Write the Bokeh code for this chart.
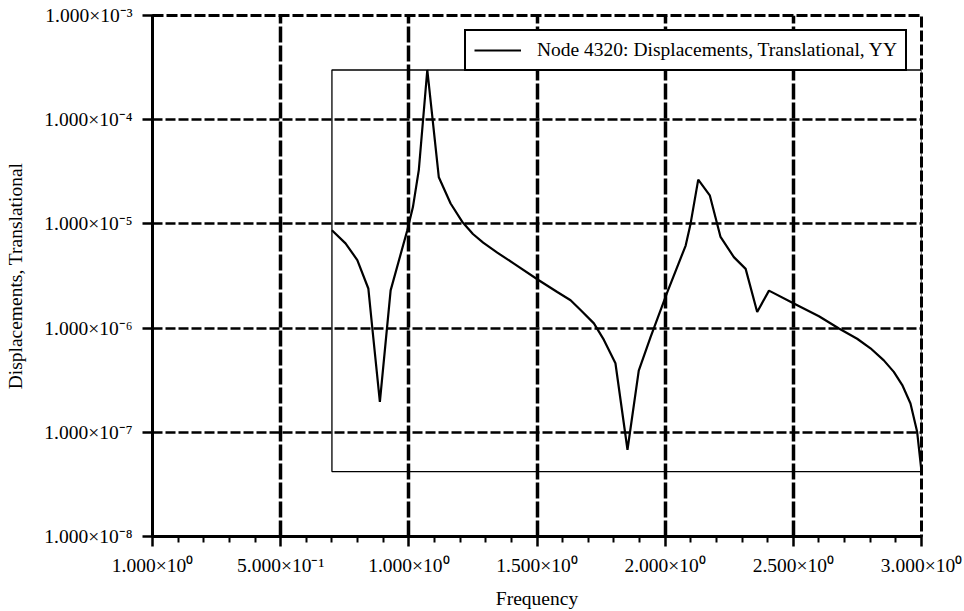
from bokeh.plotting import figure
from bokeh.models import FixedTicker, Legend, LegendItem, Range1d
from bokeh.embed import file_html
from bokeh.resources import INLINE

# ---- data ----
freq = [0.700, 0.753, 0.799, 0.842, 0.857, 0.887, 0.929, 0.994, 1.016, 1.039,
        1.072, 1.117, 1.163, 1.208, 1.250, 1.290, 1.345, 1.410, 1.507, 1.579,
        1.631, 1.670, 1.722, 1.761, 1.806, 1.853, 1.897, 1.943, 2.008, 2.080,
        2.099, 2.129, 2.174, 2.216, 2.268, 2.314, 2.359, 2.405, 2.502, 2.600,
        2.678, 2.749, 2.801, 2.853, 2.892, 2.925, 2.957, 2.983, 3.000]
disp = [8.7e-6, 6.5e-6, 4.5e-6, 2.4e-6, 1.03e-6, 1.96e-7, 2.3e-6, 8.7e-6, 1.45e-5, 3.3e-5,
        3.0e-4, 2.8e-5, 1.57e-5, 1.05e-5, 8.0e-6, 6.6e-6, 5.3e-6, 4.16e-6, 2.88e-6, 2.22e-6,
        1.85e-6, 1.49e-6, 1.11e-6, 7.7e-7, 4.6e-7, 6.8e-8, 3.9e-7, 8.2e-7, 2.2e-6, 6.2e-6,
        1.0e-5, 2.66e-5, 1.88e-5, 7.5e-6, 4.8e-6, 3.7e-6, 1.43e-6, 2.29e-6, 1.72e-6, 1.3e-6,
        9.9e-7, 7.9e-7, 6.4e-7, 4.9e-7, 3.8e-7, 2.84e-7, 1.89e-7, 1.01e-7, 4.2e-8]

x_ticks = [0.0, 0.5, 1.0, 1.5, 2.0, 2.5, 3.0]
x_tick_labels = ["1.000×10⁰", "5.000×10⁻¹", "1.000×10⁰", "1.500×10⁰",
                 "2.000×10⁰", "2.500×10⁰", "3.000×10⁰"]
x_minor_ticks = [0.1, 0.2, 0.3, 0.4, 0.6, 0.7, 0.8, 0.9, 1.1, 1.2, 1.3, 1.4,
                 1.6, 1.7, 1.8, 1.9, 2.1, 2.2, 2.3, 2.4, 2.6, 2.7, 2.8, 2.9]
y_ticks = [1e-8, 1e-7, 1e-6, 1e-5, 1e-4, 1e-3]
y_tick_labels = ["1.000×10⁻⁸", "1.000×10⁻⁷", "1.000×10⁻⁶", "1.000×10⁻⁵",
                 "1.000×10⁻⁴", "1.000×10⁻³"]
series_label = "Node 4320: Displacements, Translational, YY"
x_title = "Frequency"
y_title = "Displacements, Translational"

FONT = "Liberation Serif"
FS = "19.5px"

p = figure(width=964, height=611, output_backend="svg", toolbar_location=None,
           y_axis_type="log", x_range=Range1d(0, 3), y_range=Range1d(1e-8, 1e-3),
           min_border_left=152, min_border_right=43, min_border_top=15,
           min_border_bottom=74)
p.background_fill_color = "white"
p.border_fill_color = "white"
# top/right frame edges carry the dashed grid at 1e-3 and 3.0
p.outline_line_color = "black"
p.outline_line_width = 3
p.outline_line_alpha = 1.0
p.outline_line_dash = "11 3"

# axes
p.xaxis.ticker = FixedTicker(ticks=x_ticks, minor_ticks=x_minor_ticks)
p.xaxis.major_label_overrides = {t: l for t, l in zip(x_ticks, x_tick_labels)}
p.yaxis.ticker = FixedTicker(ticks=y_ticks, minor_ticks=[])
p.yaxis.major_label_overrides = {t: l for t, l in zip(y_ticks, y_tick_labels)}
p.xaxis.axis_label = x_title
p.yaxis.axis_label = y_title
for ax in (p.xaxis, p.yaxis):
    ax.axis_line_width = 3
    ax.axis_line_color = "black"
    ax.major_tick_line_width = 2.5
    ax.major_tick_line_color = "black"
    ax.major_tick_out = 10
    ax.major_tick_in = 0
    ax.minor_tick_line_width = 2
    ax.minor_tick_line_color = "black"
    ax.minor_tick_out = 6
    ax.minor_tick_in = 0
    ax.major_label_text_font = FONT
    ax.major_label_text_font_size = FS
    ax.major_label_text_color = "black"
    ax.axis_label_text_font = FONT
    ax.axis_label_text_font_size = FS
    ax.axis_label_text_font_style = "normal"
    ax.axis_label_text_color = "black"
p.yaxis.minor_tick_line_color = None
p.xaxis.major_label_standoff = 8
p.xaxis.axis_label_standoff = 9
p.yaxis.major_label_standoff = 10
p.yaxis.axis_label_standoff = 15

# grids
p.xgrid.ticker = FixedTicker(ticks=x_ticks)
p.ygrid.ticker = FixedTicker(ticks=y_ticks)
p.xgrid.grid_line_color = "black"
p.xgrid.grid_line_alpha = 1.0
p.xgrid.grid_line_width = 3.5
p.xgrid.grid_line_dash = "16 3"
p.ygrid.grid_line_color = "black"
p.ygrid.grid_line_alpha = 1.0
p.ygrid.grid_line_width = 2.5
p.ygrid.grid_line_dash = "10 3"

# data bounding box
p.quad(left=[min(freq)], right=[max(freq)], bottom=[min(disp)], top=[max(disp)],
       fill_color=None, line_color="black", line_width=1.3)

r = p.line(freq, disp, line_color="black", line_width=2.2)

legend = Legend(items=[LegendItem(label=series_label, renderers=[r])],
                location=(312, 465), padding=8, margin=0,
                glyph_width=47, glyph_height=20, label_standoff=16,
                label_text_font=FONT, label_text_font_size=FS,
                label_text_color="black",
                border_line_color="black", border_line_width=2,
                border_line_alpha=1.0,
                background_fill_color="white", background_fill_alpha=1.0)
p.add_layout(legend)

open("out.html", "w").write(file_html(p, INLINE))
